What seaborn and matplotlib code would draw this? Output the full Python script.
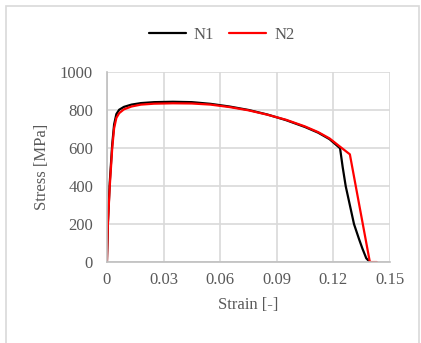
import pandas as pd
import matplotlib.pyplot as plt
import seaborn as sns
from matplotlib.patches import Rectangle

# datos
n1_strain = [0, 0.0005, 0.0015, 0.0028, 0.0038, 0.005, 0.0065, 0.009, 0.013, 0.018, 0.025, 0.035,
             0.045, 0.055, 0.065, 0.075, 0.085, 0.095, 0.105, 0.112, 0.118, 0.1236, 0.125, 0.1266,
             0.131, 0.1337, 0.1355, 0.1375, 0.1394]
n1_stress = [0, 200, 420, 620, 725, 780, 803, 818, 830, 838, 843, 845, 843, 834, 820, 802, 778, 748,
             712, 682, 648, 600, 500, 400, 200, 120, 70, 20, 0]

n2_strain = [0, 0.0005, 0.0015, 0.0028, 0.0038, 0.005, 0.0065, 0.009, 0.013, 0.018, 0.025, 0.035,
             0.045, 0.055, 0.065, 0.075, 0.085, 0.095, 0.105, 0.112, 0.118, 0.1231, 0.1288, 0.1394,
             0.1431]
n2_stress = [0, 200, 400, 600, 705, 760, 785, 805, 820, 830, 835, 837, 836, 830, 817, 800, 777, 750,
             715, 685, 652, 612, 568, 0, 0]

df = pd.concat([
    pd.DataFrame({'Strain': n1_strain, 'Stress': n1_stress, 'Serie': 'N1'}),
    pd.DataFrame({'Strain': n2_strain, 'Stress': n2_stress, 'Serie': 'N2'}),
])

sns.set_style("white")
plt.rcParams['font.family'] = ['Liberation Serif', 'DejaVu Serif']

gris = '#595959'
fig = plt.figure(figsize=(4.21, 3.43), dpi=100)
ax = fig.add_axes([0.254, 0.236, 0.672, 0.553])

sns.lineplot(data=df, x='Strain', y='Stress', hue='Serie', palette={'N1': 'black', 'N2': '#ff0000'},
             sort=False, estimator=None, linewidth=1.6, ax=ax)

ax.set_xlim(0, 0.15)
ax.set_ylim(0, 1000)
ax.set_xticks([0, 0.03, 0.06, 0.09, 0.12, 0.15])
ax.set_xticklabels(['0', '0.03', '0.06', '0.09', '0.12', '0.15'])
ax.set_yticks([0, 200, 400, 600, 800, 1000])
ax.grid(True, color='#d9d9d9', linewidth=1.2)
ax.set_axisbelow(True)
for s in ['top', 'right']:
    ax.spines[s].set_visible(False)
for s in ['left', 'bottom']:
    ax.spines[s].set_color('#bfbfbf')
    ax.spines[s].set_linewidth(1.2)
ax.tick_params(length=0, labelsize=12, labelcolor=gris)
ax.tick_params(axis='y', pad=10)
ax.tick_params(axis='x', pad=7)
ax.set_xlabel('Strain [-]', fontsize=12, color=gris, labelpad=7)
ax.set_ylabel('Stress [MPa]', fontsize=12, color=gris, labelpad=7)

leg = ax.legend(loc='center', bbox_to_anchor=(0.406, 1.197), ncol=2,
                frameon=False, fontsize=12, handlelength=2.2, columnspacing=0.9, handletextpad=0.5)
for t in leg.get_texts():
    t.set_color(gris)
for h in leg.get_lines():
    h.set_linewidth(1.6)

# marco exterior del grafico
fig.patches.append(Rectangle((6 / 421, -0.01), 413 / 421, 1 - 6 / 343 + 0.01,
                             transform=fig.transFigure, fill=False, edgecolor='#d9d9d9', linewidth=1.2))

fig.savefig('out.png', dpi=100)
